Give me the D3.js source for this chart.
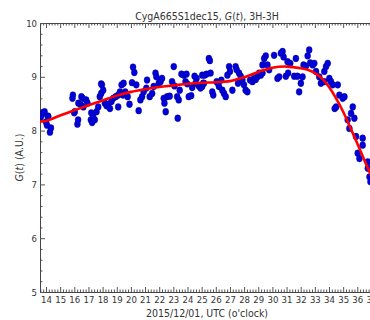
<!DOCTYPE html>
<html>
<head>
<meta charset="utf-8">
<script src="https://cdn.jsdelivr.net/npm/d3@7"></script>
<style>
	body { margin: 0; background: #fff; }
	svg { display: block; }
	text { font-family: 'DejaVu Sans Condensed', 'Liberation Sans Narrow', 'DejaVu Sans', sans-serif; font-stretch: condensed; fill: #333; }
	.tick line { stroke: #555; }
	.domain { stroke: #444; }
</style>
</head>
<body>
<svg id="chart" width="370" height="320"></svg>
<script>
// measured G(t) points, hours UTC since 2015/12/01 00:00
const obsHour = [
	13.62, 13.7, 13.79, 13.9, 14.0, 14.07, 14.14, 14.16, 14.28, 14.35,
	15.87, 15.9, 15.99, 16.03, 16.22, 16.27, 16.29, 16.46, 16.5, 16.6, 16.64, 16.84, 16.93,
	17.17, 17.2, 17.26, 17.33, 17.45, 17.57, 17.69, 17.8, 17.9, 17.9, 17.95, 18.04,
	18.16, 18.28, 18.4, 18.52, 18.63, 18.75, 18.92, 19.1, 19.1, 19.23, 19.34,
	19.44, 19.48, 19.6, 19.77, 19.9, 20.08, 20.15, 20.24, 20.38, 20.55, 20.67, 20.79, 20.9,
	21.09, 21.14, 21.33, 21.5, 21.61, 21.74, 21.8, 21.97, 22.09, 22.2, 22.32, 22.37, 22.46,
	22.56, 22.74, 22.91, 23.03, 23.08, 23.27, 23.31, 23.38, 23.45, 23.57, 23.74, 23.86, 23.93, 23.98,
	24.09, 24.26, 24.33, 24.5, 24.57, 24.64, 24.8, 24.92, 25.04, 25.04, 25.11, 25.16, 25.2, 25.35,
	25.51, 25.58, 25.63, 25.75, 25.82, 26.06, 26.15, 26.22, 26.39, 26.46, 26.58, 26.7, 26.82, 26.94,
	27.0, 27.17, 27.4, 27.48, 27.57, 27.64, 27.76, 27.88, 27.99, 28.11, 28.23, 28.42, 28.59, 28.7,
	28.82, 28.94, 29.06, 29.18, 29.3, 29.3, 29.42, 29.53, 29.65, 29.77, 30.12, 30.36, 30.48, 30.6,
	30.72, 30.79, 30.95, 31.07, 31.11, 31.26, 31.54, 31.66, 31.77, 31.89, 32.01, 32.13, 32.2, 32.37,
	32.49, 32.6, 32.67, 32.84, 32.96, 33.08, 33.31, 33.43, 33.67, 33.67, 33.79, 33.91, 34.02, 34.14,
	34.26, 34.4, 34.5, 34.62, 34.73, 34.97, 35.09, 35.32, 35.44, 35.56, 35.68, 35.79, 35.91, 36.03,
	36.15, 36.38, 36.38, 36.74, 36.74, 36.86, 36.93
];
const obsG = [
	8.25, 8.29, 8.33, 8.35, 8.16, 8.10, 8.27, 8.26, 7.97, 8.05,
	8.60, 8.66, 8.33, 8.35, 8.12, 8.20, 8.51, 8.48, 8.63, 8.60, 8.44, 8.57, 8.51,
	8.20, 8.33, 8.15, 8.25, 8.20, 8.35, 8.44, 8.63, 8.69, 8.87, 8.85, 8.75,
	8.51, 8.46, 8.49, 8.41, 8.54, 8.60, 8.63, 8.66, 8.44, 8.72, 8.85,
	8.66, 8.88, 8.72, 8.63, 8.49, 8.89, 9.18, 9.08, 8.85, 8.37, 8.57, 8.63, 8.72,
	8.79, 8.94, 8.63, 8.69, 8.82, 9.07, 9.00, 8.88, 8.91, 8.97, 8.60, 8.51, 8.35,
	8.63, 8.64, 8.91, 9.19, 8.83, 8.63, 8.23, 8.57, 8.75, 9.05, 9.03, 8.91, 9.05, 8.87,
	8.63, 8.65, 8.80, 9.01, 8.88, 8.97, 8.83, 8.79, 9.03, 8.82, 8.88, 8.88, 9.03, 9.05,
	9.34, 9.30, 9.07, 8.72, 8.66, 8.91, 8.88, 8.82, 8.94, 8.75, 8.69, 8.63, 9.03, 9.19,
	9.10, 8.75, 9.19, 9.13, 8.88, 9.07, 9.01, 8.94, 8.85, 8.75, 8.72, 8.94, 8.91, 8.97,
	8.95, 9.00, 9.07, 9.03, 9.22, 9.07, 9.34, 9.39, 9.22, 9.13, 9.40, 8.97, 9.00, 9.44,
	9.47, 9.37, 9.01, 9.28, 9.07, 9.25, 9.01, 9.34, 9.01, 8.72, 8.88, 9.00, 9.22, 9.20,
	9.39, 9.50, 9.26, 9.22, 9.25, 9.10, 9.00, 8.88, 9.10, 8.91, 9.19, 9.25, 8.97, 8.91,
	8.85, 8.41, 8.44, 8.85, 8.66, 8.60, 8.63, 8.20, 8.04, 8.32, 8.44, 8.23, 7.89, 7.58,
	7.48, 7.86, 7.73, 7.42, 7.30, 7.14, 7.05
];

// smooth fit drawn in red
const fitHour = [13.57, 14, 15, 16, 17, 18, 19, 20, 21, 22, 23, 24, 25, 26, 27, 28, 29, 30, 31, 32, 32.5, 33, 33.5, 34, 34.5, 35, 35.5, 36, 36.5, 37, 37.3];
const fitG = [8.17, 8.18, 8.28, 8.38, 8.47, 8.56, 8.65, 8.72, 8.77, 8.81, 8.84, 8.87, 8.89, 8.90, 8.92, 8.99, 9.09, 9.17, 9.19, 9.16, 9.13, 9.07, 8.97, 8.81, 8.60, 8.35, 8.06, 7.76, 7.45, 7.15, 6.96];

const xTicks = d3.range(14, 38);
const yTicks = [5, 6, 7, 8, 9, 10];

const svg = d3.select('#chart');
const mLeft = 40, mRight = 374, mTop = 23, mBottom = 292;

const x = d3.scaleLinear().domain([13.576, 37.18]).range([mLeft, mRight]);
const y = d3.scaleLinear().domain([5, 10]).range([mBottom, mTop]);

const plot = svg.append('g');
plot.append('clipPath').attr('id', 'clip')
	.append('rect').attr('x', mLeft).attr('y', mTop).attr('width', mRight - mLeft).attr('height', mBottom - mTop);

// minor ticks
const minorX = d3.range(13.6, 37.2, 0.2).filter(v => Math.abs(v - Math.round(v)) > 0.01);
const minorY = d3.range(5, 10.001, 0.2).filter(v => Math.abs(v - Math.round(v)) > 0.01);

plot.append('g').attr('transform', `translate(0,${mBottom})`)
	.call(d3.axisBottom(x).tickValues(minorX).tickSize(-2.5).tickFormat(''))
	.call(g => g.select('.domain').remove());
plot.append('g').attr('transform', `translate(0,${mTop})`)
	.call(d3.axisTop(x).tickValues(minorX).tickSize(-2.5).tickFormat(''))
	.call(g => g.select('.domain').remove());
plot.append('g').attr('transform', `translate(${mLeft},0)`)
	.call(d3.axisLeft(y).tickValues(minorY).tickSize(-2.5).tickFormat(''))
	.call(g => g.select('.domain').remove());

// major ticks
plot.append('g').attr('transform', `translate(0,${mBottom})`)
	.call(d3.axisBottom(x).tickValues(xTicks).tickSize(-5).tickPadding(4).tickSizeOuter(0));
plot.append('g').attr('transform', `translate(0,${mTop})`)
	.call(d3.axisTop(x).tickValues(xTicks).tickSize(-5).tickFormat('').tickSizeOuter(0));
plot.append('g').attr('transform', `translate(${mLeft},0)`)
	.call(d3.axisLeft(y).tickValues(yTicks).tickFormat(d3.format('d')).tickSize(-5).tickPadding(3).tickSizeOuter(0));

svg.selectAll('.tick text').attr('font-size', 9.5).attr('fill', '#333');
svg.selectAll('.domain').attr('stroke', '#444');

// scatter
plot.append('g').attr('clip-path', 'url(#clip)')
	.selectAll('ellipse')
	.data(obsHour.map((h, i) => [h, obsG[i]]))
	.join('ellipse')
	.attr('cx', d => x(d[0]))
	.attr('cy', d => y(d[1]))
	.attr('rx', 3)
	.attr('ry', 3.4)
	.attr('fill', '#0000dd')
	.attr('stroke', '#00007a')
	.attr('stroke-width', 0.4);

// fit line
const line = d3.line()
	.curve(d3.curveCatmullRom)
	.x(d => x(d[0]))
	.y(d => y(d[1]));
plot.append('path').attr('clip-path', 'url(#clip)')
	.datum(fitHour.map((h, i) => [h, fitG[i]]))
	.attr('d', line)
	.attr('fill', 'none')
	.attr('stroke', '#ff0000')
	.attr('stroke-width', 2.6);

// titles
const title = svg.append('text')
	.attr('x', (mLeft + mRight) / 2).attr('y', 20)
	.attr('text-anchor', 'middle').attr('font-size', 10.5);
title.append('tspan').text('CygA665S1dec15, ');
title.append('tspan').attr('font-style', 'italic').text('G');
title.append('tspan').text('(');
title.append('tspan').attr('font-style', 'italic').text('t');
title.append('tspan').text('), 3H-3H');

svg.append('text')
	.attr('x', (mLeft + mRight) / 2).attr('y', 317)
	.attr('text-anchor', 'middle').attr('font-size', 10.5)
	.text("2015/12/01, UTC (o'clock)");

const ylab = svg.append('text')
	.attr('transform', `translate(23,${(mTop + mBottom) / 2}) rotate(-90)`)
	.attr('text-anchor', 'middle').attr('font-size', 10.5);
ylab.append('tspan').attr('font-style', 'italic').text('G');
ylab.append('tspan').text('(');
ylab.append('tspan').attr('font-style', 'italic').text('t');
ylab.append('tspan').text(')  (A.U.)');
</script>
</body>
</html>
